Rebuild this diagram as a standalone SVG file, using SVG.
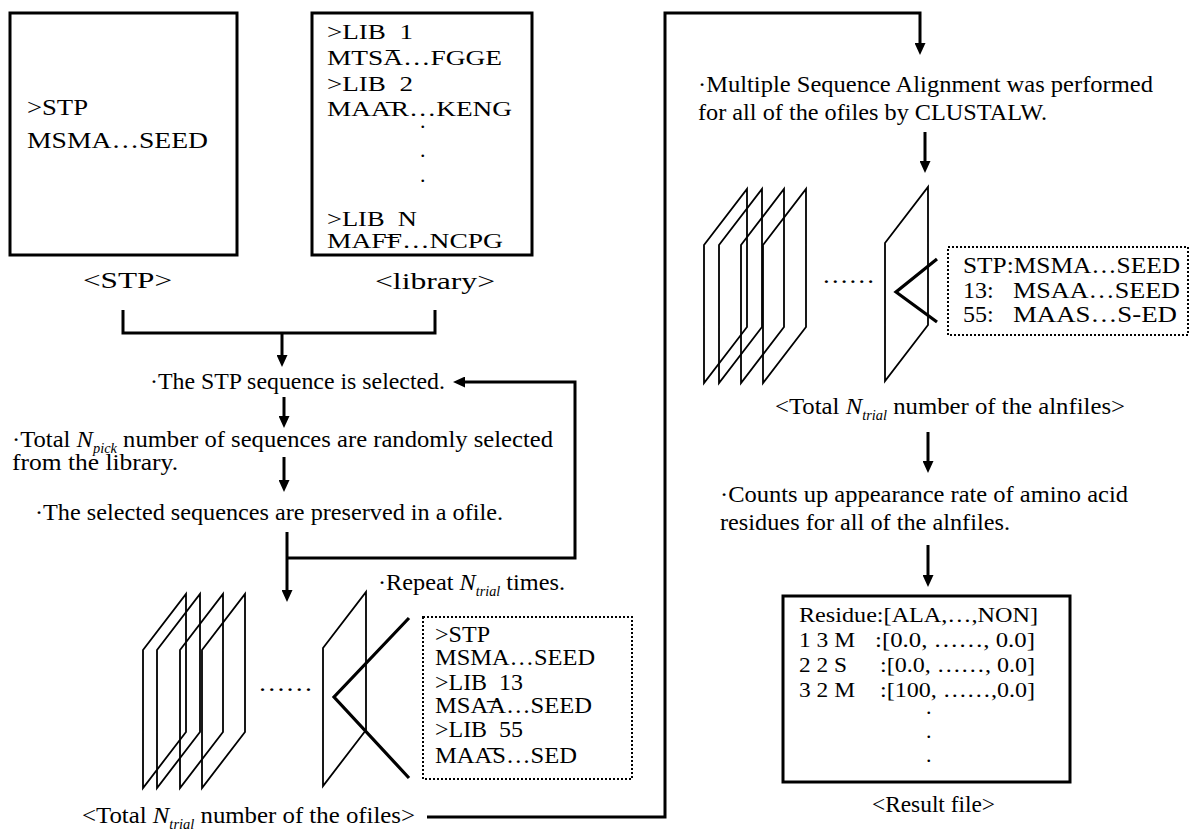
<svg xmlns="http://www.w3.org/2000/svg" width="1192" height="832" viewBox="0 0 1192 832">
  <defs>
    <style>
      .t { font-family: "Liberation Serif", "Times New Roman", serif; font-size: 24px; fill: #000; }
      .s22 { font-size: 22px; }
      .it { font-style: italic; }
      .sub { font-style: italic; font-size: 14px; }
      .box { fill: #fff; stroke: #000; stroke-width: 3; }
      .plane { fill: none; stroke: #000; stroke-width: 1.8; }
      .conn { fill: none; stroke: #000; stroke-width: 3; }
      .arr { fill: none; stroke: #000; stroke-width: 3; marker-end: url(#head); }
      .vee { fill: none; stroke: #000; stroke-width: 3.2; }
      .dotbox { fill: none; stroke: #000; stroke-width: 2; stroke-dasharray: 2 2; }
    </style>
    <marker id="head" markerUnits="userSpaceOnUse" markerWidth="12" markerHeight="11" refX="2" refY="5.5" orient="auto">
      <path d="M0,0 L12,5.5 L0,11 Z" fill="#000"/>
    </marker>
    <path id="plane" d="M0,0 L43,-56 L43,82 L0,138 Z"/>
  </defs>

  <rect width="1192" height="832" fill="#fff"/>

  <!-- STP input file -->
  <g id="stp-file">
    <rect class="box" x="10" y="13" width="227" height="242"/>
    <text class="t" x="27" y="115" textLength="61" lengthAdjust="spacingAndGlyphs">&gt;STP</text>
    <text class="t" x="27" y="148" textLength="181" lengthAdjust="spacingAndGlyphs">MSMA…SEED</text>
    <text class="t" x="83" y="288" font-size="25" textLength="89" lengthAdjust="spacingAndGlyphs">&lt;STP&gt;</text>
  </g>

  <!-- sequence library -->
  <g id="library">
    <rect class="box" x="312" y="13" width="220" height="242"/>
    <text class="t s22" x="327" y="39" textLength="86" lengthAdjust="spacingAndGlyphs">&gt;LIB<tspan dy="9">_</tspan><tspan dy="-9">1</tspan></text>
    <text class="t s22" x="327" y="65" textLength="175" lengthAdjust="spacingAndGlyphs">MTSA…FGGE</text>
    <text class="t s22" x="327" y="91" textLength="86" lengthAdjust="spacingAndGlyphs">&gt;LIB<tspan dy="9">_</tspan><tspan dy="-9">2</tspan></text>
    <text class="t s22" x="327" y="116" textLength="185" lengthAdjust="spacingAndGlyphs">MAAR…KENG</text>
    <text class="t s22" x="420" y="128">.</text>
    <text class="t s22" x="420" y="157">.</text>
    <text class="t s22" x="420" y="182">.</text>
    <text class="t s22" x="327" y="226" textLength="90" lengthAdjust="spacingAndGlyphs">&gt;LIB<tspan dy="9">_</tspan><tspan dy="-9">N</tspan></text>
    <text class="t s22" x="327" y="248" textLength="176" lengthAdjust="spacingAndGlyphs">MAFF…NCPG</text>
    <text class="t" x="375" y="289" font-size="25" textLength="120" lengthAdjust="spacingAndGlyphs">&lt;library&gt;</text>
  </g>

  <!-- sampling steps -->
  <g id="step-select-stp">
    <text class="t" x="150" y="389" textLength="295" lengthAdjust="spacingAndGlyphs">·The STP sequence is selected.</text>
  </g>
  <g id="step-pick">
    <text class="t" x="12" y="447" textLength="541" lengthAdjust="spacingAndGlyphs">·Total <tspan class="it">N</tspan><tspan class="sub" dy="6">pick</tspan><tspan dy="-6"> number of sequences are randomly selected</tspan></text>
    <text class="t" x="12" y="470" textLength="166" lengthAdjust="spacingAndGlyphs">from the library.</text>
  </g>
  <g id="step-preserve">
    <text class="t" x="35" y="520" textLength="468" lengthAdjust="spacingAndGlyphs">·The selected sequences are preserved in a ofile.</text>
  </g>
  <g id="repeat-note">
    <text class="t" x="378" y="590" textLength="187" lengthAdjust="spacingAndGlyphs">·Repeat <tspan class="it">N</tspan><tspan class="sub" dy="6">trial</tspan><tspan dy="-6"> times.</tspan></text>
  </g>

  <!-- ofile stack -->
  <g id="ofiles">
    <use href="#plane" class="plane" x="143" y="650"/>
    <use href="#plane" class="plane" x="157" y="650"/>
    <use href="#plane" class="plane" x="180" y="650"/>
    <use href="#plane" class="plane" x="202" y="650"/>
    <text class="t" x="258" y="691" textLength="55" lengthAdjust="spacingAndGlyphs">……</text>
    <use href="#plane" class="plane" x="323" y="648"/>
    <path class="vee" d="M409,618 L334,697 L409,778"/>
    <rect class="dotbox" x="423" y="617" width="209" height="162"/>
    <text class="t" x="435" y="642" textLength="55" lengthAdjust="spacingAndGlyphs">&gt;STP</text>
    <text class="t" x="435" y="665" textLength="160" lengthAdjust="spacingAndGlyphs">MSMA…SEED</text>
    <text class="t" x="435" y="690" textLength="88" lengthAdjust="spacingAndGlyphs">&gt;LIB<tspan dy="9">_</tspan><tspan dy="-9">13</tspan></text>
    <text class="t" x="435" y="713" textLength="157" lengthAdjust="spacingAndGlyphs">MSAA…SEED</text>
    <text class="t" x="435" y="737" textLength="88" lengthAdjust="spacingAndGlyphs">&gt;LIB<tspan dy="9">_</tspan><tspan dy="-9">55</tspan></text>
    <text class="t" x="435" y="763" textLength="142" lengthAdjust="spacingAndGlyphs">MAAS…SED</text>
    <text class="t" x="82" y="823" textLength="333" lengthAdjust="spacingAndGlyphs">&lt;Total <tspan class="it">N</tspan><tspan class="sub" dy="6">trial</tspan><tspan dy="-6"> number of the ofiles&gt;</tspan></text>
  </g>

  <!-- alignment step -->
  <g id="step-align">
    <text class="t" x="698" y="92" textLength="455" lengthAdjust="spacingAndGlyphs">·Multiple Sequence Alignment was performed</text>
    <text class="t" x="698" y="120" textLength="349" lengthAdjust="spacingAndGlyphs">for all of the ofiles by CLUSTALW.</text>
  </g>

  <!-- alnfile stack -->
  <g id="alnfiles">
    <use href="#plane" class="plane" x="704" y="245"/>
    <use href="#plane" class="plane" x="719" y="245"/>
    <use href="#plane" class="plane" x="741" y="245"/>
    <use href="#plane" class="plane" x="763" y="245"/>
    <text class="t" x="822" y="283" textLength="53" lengthAdjust="spacingAndGlyphs">……</text>
    <use href="#plane" class="plane" x="885" y="243"/>
    <path class="vee" d="M937,259 L896,292 L937,322"/>
    <rect class="dotbox" x="948" y="247" width="240" height="88"/>
    <text class="t" x="963" y="273" textLength="217" lengthAdjust="spacingAndGlyphs">STP:MSMA…SEED</text>
    <text class="t" x="963" y="298">13:</text>
    <text class="t" x="1013" y="298" textLength="167" lengthAdjust="spacingAndGlyphs">MSAA…SEED</text>
    <text class="t" x="963" y="322">55:</text>
    <text class="t" x="1013" y="322" textLength="164" lengthAdjust="spacingAndGlyphs">MAAS…S-ED</text>
    <text class="t" x="775" y="414" textLength="350" lengthAdjust="spacingAndGlyphs">&lt;Total <tspan class="it">N</tspan><tspan class="sub" dy="6">trial</tspan><tspan dy="-6"> number of the alnfiles&gt;</tspan></text>
  </g>

  <!-- counting step -->
  <g id="step-count">
    <text class="t" x="720" y="502" textLength="408" lengthAdjust="spacingAndGlyphs">·Counts up appearance rate of amino acid</text>
    <text class="t" x="720" y="530" textLength="290" lengthAdjust="spacingAndGlyphs">residues for all of the alnfiles.</text>
  </g>

  <!-- result file -->
  <g id="result-file">
    <rect class="box" x="783" y="596" width="287" height="186"/>
    <text class="t s22" x="799" y="622" textLength="239" lengthAdjust="spacingAndGlyphs">Residue:[ALA,…,NON]</text>
    <text class="t s22" x="799" y="647" textLength="56" lengthAdjust="spacingAndGlyphs">1 3 M</text>
    <text class="t s22" x="875" y="647" textLength="160" lengthAdjust="spacingAndGlyphs">:[0.0, ……, 0.0]</text>
    <text class="t s22" x="799" y="672" textLength="48" lengthAdjust="spacingAndGlyphs">2 2 S</text>
    <text class="t s22" x="880" y="672" textLength="155" lengthAdjust="spacingAndGlyphs">:[0.0, ……, 0.0]</text>
    <text class="t s22" x="799" y="697" textLength="56" lengthAdjust="spacingAndGlyphs">3 2 M</text>
    <text class="t s22" x="880" y="697" textLength="155" lengthAdjust="spacingAndGlyphs">:[100, ……,0.0]</text>
    <text class="t s22" x="926" y="714">.</text>
    <text class="t s22" x="926" y="738">.</text>
    <text class="t s22" x="926" y="762">.</text>
    <text class="t" x="872" y="812" textLength="123" lengthAdjust="spacingAndGlyphs">&lt;Result file&gt;</text>
  </g>

  <!-- connectors -->
  <g id="connectors">
    <path class="conn" d="M123,310 V333 H435 V310"/>
    <path class="arr" d="M282,333 V357"/>
    <path class="arr" d="M284,397 V418"/>
    <path class="arr" d="M284,457 V482"/>
    <path class="arr" d="M287,532 V592"/>
    <path class="arr" d="M287,558 H575 V382 H463"/>
    <path class="arr" d="M427,817 H665 V13 H920 V45"/>
    <path class="arr" d="M925,132 V163"/>
    <path class="arr" d="M928,432 V463"/>
    <path class="arr" d="M928,545 V577"/>
  </g>
</svg>
